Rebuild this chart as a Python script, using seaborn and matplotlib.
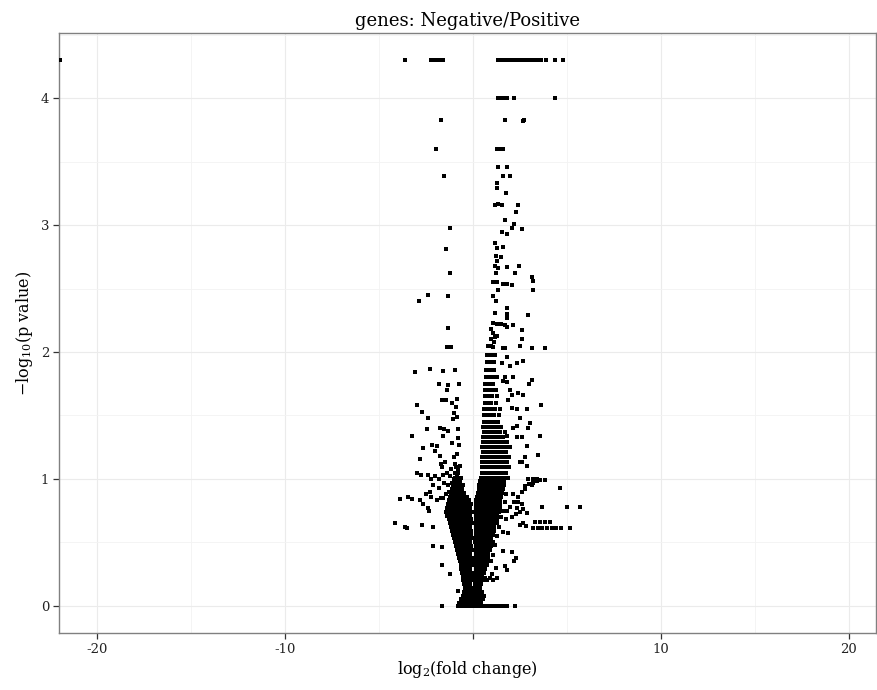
import matplotlib
matplotlib.use("Agg")
import matplotlib.pyplot as plt
from matplotlib.ticker import MultipleLocator
import pandas as pd
import seaborn as sns

# ---- data: log2 fold change vs -log10 p-value per gene ----

# genes at the p-value floor (-log10 p = 4.30) and the other top levels
top_fc = [-21.97, -3.62, -2.23, -2.05, -1.90, -1.75, -1.60,
          1.33, 1.45, 1.55, 1.65, 1.75, 1.85, 1.95, 2.05, 2.15, 2.25, 2.35,
          2.45, 2.55, 2.65, 2.75, 2.88, 3.00, 3.20, 3.35, 3.50, 3.65, 3.90,
          4.36, 4.80]
top_p = [4.30] * len(top_fc)

level4_fc = [1.33, 1.50, 1.65, 1.80, 2.20, 4.36]
level4_p = [4.00, 4.00, 4.00, 4.00, 4.00, 4.00]

# sparse genes, down-regulated side
left_scatter = [
    (-1.70, 3.83), (-1.97, 3.60), (-1.54, 3.39), (-1.22, 2.98), (-1.44, 2.81),
    (-1.22, 2.62), (-2.39, 2.45), (-2.87, 2.40), (-1.33, 2.44), (-1.33, 2.19),
    (-1.38, 2.04), (-1.15, 2.04), (-3.05, 1.84), (-2.25, 1.87), (-1.60, 1.85),
    (-0.96, 1.86), (-1.81, 1.75), (-1.33, 1.74), (-0.74, 1.75), (-1.38, 1.70),
    (-1.65, 1.62), (-1.44, 1.62), (-0.85, 1.63), (-2.98, 1.58), (-2.71, 1.53),
    (-1.10, 1.60), (-0.90, 1.57), (-1.00, 1.52), (-0.85, 1.49), (-1.05, 1.47),
    (-2.39, 1.48), (-3.24, 1.34), (-2.45, 1.39), (-1.76, 1.40), (-1.50, 1.39),
    (-1.30, 1.38), (-1.60, 1.34), (-0.80, 1.39), (-0.80, 1.32), (-2.66, 1.24),
    (-2.18, 1.27), (-1.90, 1.26), (-2.00, 1.22), (-1.10, 1.28), (-0.75, 1.27),
    (-0.85, 1.20), (-1.00, 1.17), (-2.82, 1.16), (-1.76, 1.18), (-1.70, 1.12),
    (-1.65, 1.09), (-1.49, 1.13), (-0.80, 1.07), (-2.98, 1.05), (-2.75, 1.03),
    (-2.40, 1.03), (-2.20, 1.00), (-2.00, 1.02), (-1.80, 1.00), (-1.60, 1.03),
    (-1.00, 1.00), (-0.85, 1.03), (-0.70, 1.10), (-1.25, 0.90), (-1.50, 0.97),
    (-1.35, 1.05), (-0.95, 1.12), (-1.80, 0.93), (-2.10, 0.95), (-1.15, 1.08),
    (-1.40, 0.88), (-1.70, 0.85), (-1.30, 0.95), (-1.20, 1.02), (-1.10, 0.97),
    (-3.88, 0.84), (-3.46, 0.86), (-3.24, 0.84), (-2.82, 0.83), (-2.66, 0.80),
    (-2.29, 0.90), (-2.50, 0.88), (-2.20, 0.86), (-1.90, 0.83), (-1.60, 0.85),
    (-2.39, 0.77), (-2.30, 0.75), (-4.15, 0.65), (-3.62, 0.62), (-3.50, 0.61),
    (-2.71, 0.64), (-2.13, 0.62), (-2.13, 0.47), (-1.65, 0.46), (-1.65, 0.32),
    (-1.22, 0.25), (-0.80, 0.12),
]

# sparse genes, up-regulated side
right_scatter = [
    (1.70, 3.83), (2.66, 3.82), (2.75, 3.83), (1.30, 3.60), (1.45, 3.60),
    (1.60, 3.60), (1.33, 3.46), (1.80, 3.46), (1.60, 3.39), (1.97, 3.39),
    (1.28, 3.33), (1.28, 3.29), (1.75, 3.25), (1.17, 3.16), (1.35, 3.17),
    (1.55, 3.16), (2.39, 3.16), (2.29, 3.10), (1.70, 3.04), (1.54, 2.95),
    (1.80, 2.93), (2.07, 2.98), (2.18, 3.01), (2.60, 2.97), (1.17, 2.86),
    (1.30, 2.82), (1.25, 2.76), (1.60, 2.83), (1.50, 2.75), (1.30, 2.72),
    (1.20, 2.68), (1.35, 2.66), (1.80, 2.67), (1.25, 2.62), (2.45, 2.68),
    (2.23, 2.62), (3.14, 2.59), (3.20, 2.56), (1.06, 2.55), (1.30, 2.55),
    (1.60, 2.54), (1.85, 2.54), (2.10, 2.53), (3.20, 2.49), (1.33, 2.49),
    (1.06, 2.44), (1.22, 2.40), (1.17, 2.31), (1.80, 2.35), (1.80, 2.30),
    (1.80, 2.27), (2.93, 2.29), (1.10, 2.23), (1.30, 2.22), (1.50, 2.22),
    (1.70, 2.21), (1.80, 2.20), (2.13, 2.21), (1.00, 2.18), (1.10, 2.15),
    (1.20, 2.12), (1.00, 2.10), (1.15, 2.08), (1.30, 2.13), (2.60, 2.17),
    (2.60, 2.10), (2.50, 2.05), (1.06, 2.04), (1.70, 2.03), (3.14, 2.03),
    (3.85, 2.03), (1.60, 2.03), (1.80, 1.96), (1.54, 1.91), (1.97, 1.89),
    (2.34, 1.91), (2.66, 1.93), (1.70, 1.80), (2.13, 1.80), (3.14, 1.78),
    (2.98, 1.75), (1.60, 1.77), (1.80, 1.76), (1.97, 1.70), (2.07, 1.66),
    (2.39, 1.68), (2.66, 1.66), (1.86, 1.62), (2.07, 1.56), (2.34, 1.55),
    (2.87, 1.55), (3.62, 1.58), (2.50, 1.48), (3.03, 1.44), (2.93, 1.40),
    (2.13, 1.40), (2.34, 1.42), (1.80, 1.34), (2.34, 1.33), (2.60, 1.33),
    (3.56, 1.34), (2.87, 1.26), (3.46, 1.19), (2.77, 1.17), (2.60, 1.13),
    (2.50, 1.13), (2.90, 1.10), (2.93, 1.00), (3.20, 1.00), (3.40, 1.00),
    (3.60, 0.99), (3.85, 0.99), (3.20, 0.97), (3.40, 0.98), (2.77, 0.92),
    (3.14, 0.95), (4.63, 0.93), (2.15, 0.88), (2.40, 0.86), (2.60, 0.90),
    (2.80, 0.94), (3.00, 0.96), (2.00, 0.78), (2.20, 0.82), (2.40, 0.82),
    (2.60, 0.80), (1.80, 0.75), (2.10, 0.70), (2.30, 0.72), (2.50, 0.74),
    (2.70, 0.76), (2.34, 0.77), (2.87, 0.73), (3.67, 0.78), (5.00, 0.78),
    (5.69, 0.78), (2.50, 0.64), (2.70, 0.65), (2.85, 0.63), (3.30, 0.66),
    (3.60, 0.66), (3.85, 0.66), (4.10, 0.66), (3.20, 0.61), (3.45, 0.61),
    (3.70, 0.61), (3.95, 0.61), (4.20, 0.61), (4.45, 0.61), (4.70, 0.61),
    (5.15, 0.61), (1.86, 0.57), (1.60, 0.43), (2.07, 0.42), (2.30, 0.38),
    (2.20, 0.35), (1.70, 0.31), (1.85, 0.28), (0.64, 0.22), (0.90, 0.22),
    (1.10, 0.20), (1.30, 0.22), (0.95, 0.35), (1.10, 0.40), (1.20, 0.48),
    (1.30, 0.55), (1.42, 0.62), (1.50, 0.70), (1.60, 0.75), (1.70, 0.82),
    (1.78, 0.88), (1.25, 0.30), (0.75, 0.20), (1.05, 0.25), (1.60, 0.58),
    (1.75, 0.68),
]

# genes with p = 1 (-log10 p = 0)
zero_fc = [-1.65, -0.80, -0.70, -0.60, -0.50, -0.40, -0.30, -0.20, -0.10,
           0.00, 0.10, 0.20, 0.30, 0.40, 0.50, 0.62, 0.75, 0.90, 1.05, 1.20,
           1.35, 1.50, 1.62, 1.80, 2.23]

# bulk of genes near the origin, one row per p-value level
core_low = [
    (0.02, [-0.72, -0.55, -0.38, -0.21, -0.04, 0.13, 0.30, 0.46]),
    (0.05, [-0.62, -0.46, -0.30, -0.13, 0.04, 0.21, 0.38, 0.53]),
    (0.08, [-0.52, -0.36, -0.20, -0.04, 0.12, 0.28, 0.44, 0.58]),
    (0.11, [-0.46, -0.30, -0.14, 0.02, 0.18, 0.34, 0.50]),
    (0.14, [-0.42, -0.26, -0.10, 0.10, 0.25, 0.40]),
    (0.17, [-0.46, -0.30, -0.14, 0.14, 0.30, 0.45]),
    (0.20, [-0.50, -0.34, -0.18, -0.04, 0.12, 0.27, 0.43, 0.58]),
    (0.23, [-0.53, -0.37, -0.21, -0.06, 0.16, 0.32, 0.48]),
    (0.26, [-0.56, -0.40, -0.24, -0.08, 0.13, 0.29, 0.45, 0.60]),
    (0.29, [-0.60, -0.44, -0.28, -0.12, 0.16, 0.32, 0.48, 0.64]),
    (0.32, [-0.64, -0.48, -0.32, -0.16, -0.04, 0.14, 0.30, 0.46, 0.62, 0.76]),
    (0.35, [-0.68, -0.52, -0.36, -0.20, -0.06, 0.17, 0.33, 0.49, 0.65, 0.80]),
    (0.38, [-0.72, -0.56, -0.40, -0.24, -0.08, 0.15, 0.31, 0.47, 0.63, 0.79]),
    (0.41, [-0.80, -0.63, -0.46, -0.30, -0.14, 0.18, 0.34, 0.50, 0.66, 0.82]),
    (0.44, [-0.84, -0.67, -0.50, -0.34, -0.18, -0.04, 0.15, 0.31, 0.47, 0.63, 0.79, 0.93]),
    (0.47, [-0.90, -0.73, -0.56, -0.40, -0.24, -0.08, 0.18, 0.34, 0.50, 0.66, 0.82, 0.98]),
    (0.50, [-0.95, -0.78, -0.61, -0.44, -0.28, -0.12, 0.15, 0.31, 0.47, 0.63, 0.79, 0.95, 1.06]),
]

core_mid = [
    (0.53, [-1.00, -0.83, -0.66, -0.50, -0.34, -0.18, -0.05, 0.19, 0.35, 0.51, 0.67, 0.83, 0.99]),
    (0.56, [-1.05, -0.88, -0.71, -0.54, -0.38, -0.22, -0.08, 0.16, 0.32, 0.48, 0.64, 0.80, 0.96, 1.10]),
    (0.59, [-1.10, -0.93, -0.76, -0.59, -0.42, -0.26, -0.10, 0.19, 0.35, 0.51, 0.67, 0.83, 0.99, 1.14]),
    (0.62, [-1.15, -0.98, -0.81, -0.64, -0.47, -0.30, -0.14, 0.16, 0.32, 0.48, 0.64, 0.80, 0.96, 1.12]),
    (0.65, [-1.22, -1.05, -0.88, -0.71, -0.54, -0.37, -0.20, -0.05, 0.20, 0.36, 0.52, 0.68, 0.84, 1.00, 1.16, 1.27]),
    (0.68, [-1.28, -1.10, -0.93, -0.76, -0.59, -0.42, -0.26, -0.10, 0.17, 0.33, 0.49, 0.65, 0.81, 0.97, 1.13, 1.29]),
    (0.71, [-1.34, -1.16, -0.98, -0.80, -0.63, -0.46, -0.30, -0.14, 0.20, 0.36, 0.52, 0.68, 0.84, 1.00, 1.16, 1.32]),
    (0.74, [-1.40, -1.22, -1.04, -0.86, -0.68, -0.50, -0.33, -0.17, -0.04, 0.17, 0.33, 0.49, 0.65, 0.81, 0.97, 1.13, 1.29, 1.40]),
    (0.77, [-1.35, -1.17, -0.99, -0.81, -0.63, -0.46, -0.30, -0.14, 0.20, 0.36, 0.52, 0.68, 0.84, 1.00, 1.16, 1.32, 1.45]),
    (0.80, [-1.30, -1.12, -0.94, -0.76, -0.58, -0.41, -0.24, -0.08, 0.17, 0.33, 0.49, 0.65, 0.81, 0.97, 1.13, 1.29, 1.45]),
    (0.83, [-1.25, -1.07, -0.89, -0.71, -0.53, -0.36, -0.20, 0.20, 0.36, 0.52, 0.68, 0.84, 1.00, 1.16, 1.32, 1.48]),
    (0.86, [-1.20, -1.02, -0.84, -0.66, -0.48, -0.32, 0.24, 0.40, 0.56, 0.72, 0.88, 1.04, 1.20, 1.36, 1.52]),
    (0.89, [-1.15, -0.97, -0.79, -0.61, -0.44, 0.28, 0.44, 0.60, 0.76, 0.92, 1.08, 1.24, 1.40, 1.56]),
    (0.92, [-1.10, -0.92, -0.74, -0.56, 0.32, 0.48, 0.64, 0.80, 0.96, 1.12, 1.28, 1.44, 1.60]),
    (0.95, [-1.05, -0.87, -0.69, -0.52, 0.36, 0.52, 0.68, 0.84, 1.00, 1.16, 1.32, 1.48, 1.64]),
    (0.98, [-1.00, -0.83, -0.66, 0.40, 0.56, 0.72, 0.88, 1.04, 1.20, 1.36, 1.52, 1.68]),
    (1.01, [-0.96, -0.80, -0.64, 0.44, 0.60, 0.76, 0.92, 1.08, 1.24, 1.40, 1.56, 1.72, 1.90]),
    (1.05, [-0.94, -0.76, 0.48, 0.64, 0.80, 0.96, 1.12, 1.28, 1.44, 1.60, 1.76]),
    (1.09, [-0.90, 0.50, 0.66, 0.82, 0.98, 1.14, 1.30, 1.46, 1.62, 1.78, 1.95]),
]

core_high = [
    (1.13, [0.52, 0.68, 0.84, 1.00, 1.16, 1.32, 1.48, 1.66, 1.84]),
    (1.17, [0.50, 0.66, 0.82, 0.98, 1.14, 1.30, 1.50, 1.70, 1.92]),
    (1.21, [0.54, 0.70, 0.86, 1.02, 1.18, 1.36, 1.56, 1.76]),
    (1.25, [0.52, 0.68, 0.84, 1.00, 1.16, 1.34, 1.54, 1.78, 2.00]),
    (1.29, [0.56, 0.72, 0.88, 1.04, 1.22, 1.42, 1.62, 1.84]),
    (1.33, [0.54, 0.70, 0.86, 1.02, 1.20, 1.40, 1.62]),
    (1.37, [0.58, 0.74, 0.90, 1.08, 1.26, 1.46, 1.70]),
    (1.41, [0.56, 0.72, 0.90, 1.08, 1.30, 1.50]),
    (1.45, [0.60, 0.76, 0.94, 1.12, 1.34]),
    (1.50, [0.62, 0.78, 0.96, 1.16, 1.40]),
    (1.55, [0.60, 0.78, 0.96, 1.20, 1.45]),
    (1.60, [0.64, 0.80, 1.00, 1.22]),
    (1.65, [0.66, 0.82, 1.02, 1.30]),
    (1.70, [0.64, 0.82, 1.04, 1.25]),
    (1.75, [0.68, 0.86, 1.08]),
    (1.80, [0.70, 0.88, 1.10, 1.30]),
    (1.86, [0.72, 0.90, 1.12]),
    (1.92, [0.74, 0.92, 1.15]),
    (1.98, [0.78, 0.96, 1.20]),
    (2.05, [0.82, 1.00]),
]

# ---- assemble one table of genes ----
fc, p = [], []
fc += top_fc + level4_fc + zero_fc
p += top_p + level4_p + [0.0] * len(zero_fc)
for pts in (left_scatter, right_scatter):
    fc += [a for a, _ in pts]
    p += [b for _, b in pts]
for rows in (core_low, core_mid, core_high):
    for level, xs in rows:
        fc += xs
        p += [level] * len(xs)
genes = pd.DataFrame({"log2fc": fc, "neglog10p": p})

# ---- figure ----
sns.set_theme(style="whitegrid")
plt.rcParams["font.family"] = ["DejaVu Serif"]
plt.rcParams["mathtext.fontset"] = "dejavuserif"

fig = plt.figure(figsize=(8.78, 6.90), dpi=100)
ax = fig.add_axes([59 / 878, 1 - 633 / 690, 817 / 878, 600 / 690])
ax.set_facecolor("white")

sns.scatterplot(data=genes, x="log2fc", y="neglog10p", ax=ax,
                color="black", s=7, marker="s", linewidth=0, zorder=3)

ax.set_xlim(-22.0, 21.45)
ax.set_ylim(-0.215, 4.515)
ax.xaxis.set_minor_locator(MultipleLocator(5))
ax.yaxis.set_minor_locator(MultipleLocator(0.5))
ax.set_xticks([-20, -10, 0, 10, 20])
ax.set_xticklabels(["-20", "-10", "", "10", "20"])
ax.set_yticks([0, 1, 2, 3, 4])
ax.set_yticklabels(["0", "1", "2", "3", "4"])

ax.grid(True, which="major", color="#ebebeb", linewidth=0.8)
ax.grid(True, which="minor", color="#f3f3f3", linewidth=0.6)
ax.set_axisbelow(True)
for side in ax.spines.values():
    side.set_visible(True)
    side.set_color("#808080")
    side.set_linewidth(1.0)

ax.tick_params(axis="both", which="major", direction="out", length=4,
               width=0.9, color="#333333", labelsize=9.5,
               labelcolor="#222222", pad=3, bottom=True, left=True)
ax.tick_params(axis="both", which="minor", length=0)

ax.set_xlabel("log$_2$(fold change)", fontsize=11.5, color="black", labelpad=2)
ax.set_ylabel("\u2212log$_{10}$(p value)", fontsize=11.5, color="black", labelpad=4)
ax.set_title("genes: Negative/Positive", fontsize=13, color="black", pad=5)

fig.savefig("out.png", dpi=100)
